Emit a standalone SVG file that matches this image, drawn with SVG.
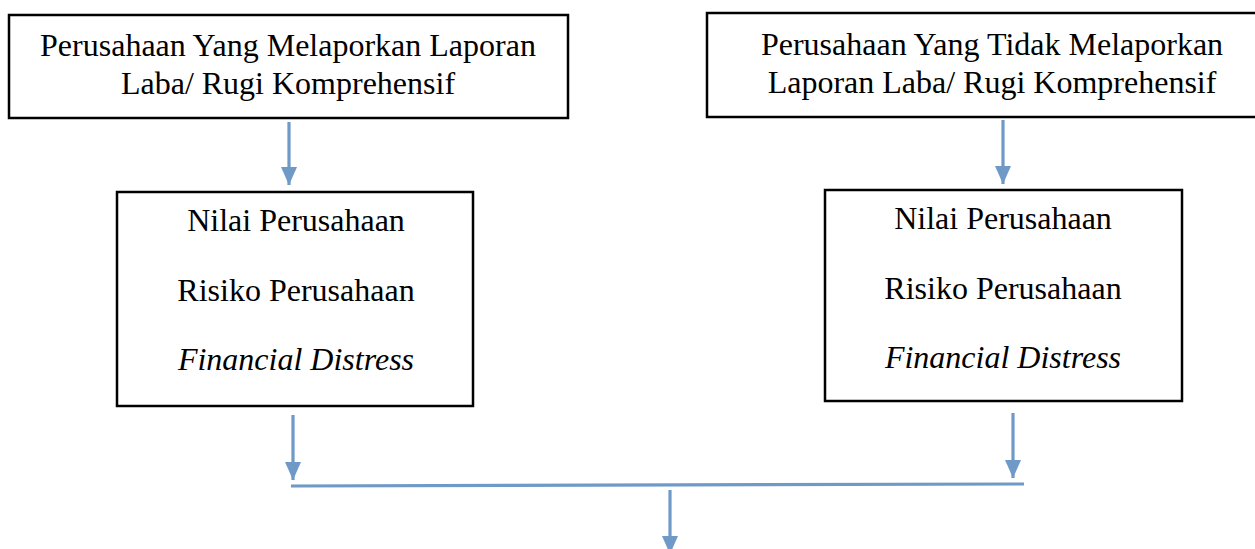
<svg xmlns="http://www.w3.org/2000/svg" width="1255" height="549" viewBox="0 0 1255 549">
<style>
.box{fill:#fff;stroke:#000;stroke-width:2.5}
.t{font-family:"Liberation Serif","Times New Roman",serif;font-size:32px;fill:#000;text-anchor:middle}
.i{font-style:italic}
.c{stroke:#6f99c6;stroke-width:3.2;fill:none}
.h{fill:#6f99c6}
</style>
<defs>
<marker id="ah" markerUnits="userSpaceOnUse" markerWidth="18" markerHeight="16" refX="18" refY="8" orient="auto" viewBox="0 0 18 16">
<path d="M0,0 L18,8 L0,16 Z" class="h"/>
</marker>
</defs>
<rect width="1255" height="549" fill="#fff"/>
<g id="n1">
<rect class="box" x="9" y="15" width="559" height="103"/>
<text class="t" x="288" y="56">Perusahaan Yang Melaporkan Laporan</text>
<text class="t" x="288" y="94">Laba/ Rugi Komprehensif</text>
</g>
<g id="n2">
<rect class="box" x="707" y="13" width="570" height="104"/>
<text class="t" x="992" y="55">Perusahaan Yang Tidak Melaporkan</text>
<text class="t" x="992" y="93">Laporan Laba/ Rugi Komprehensif</text>
</g>
<g id="n3">
<rect class="box" x="117" y="192" width="356" height="214"/>
<text class="t" x="296" y="231">Nilai Perusahaan</text>
<text class="t" x="296" y="301">Risiko Perusahaan</text>
<text class="t i" x="296" y="370">Financial Distress</text>
</g>
<g id="n4">
<rect class="box" x="825" y="190" width="357" height="211"/>
<text class="t" x="1003" y="229">Nilai Perusahaan</text>
<text class="t" x="1003" y="299">Risiko Perusahaan</text>
<text class="t i" x="1003" y="368">Financial Distress</text>
</g>
<g id="connectors">
<line class="c" x1="289" y1="122" x2="289" y2="185" marker-end="url(#ah)"/>
<line class="c" x1="1003" y1="120" x2="1003" y2="184" marker-end="url(#ah)"/>
<line class="c" x1="293" y1="415" x2="293" y2="480" marker-end="url(#ah)"/>
<line class="c" x1="1013" y1="413" x2="1013" y2="478" marker-end="url(#ah)"/>
<line class="c" x1="291" y1="486" x2="1024" y2="484"/>
<line class="c" x1="670" y1="490" x2="670" y2="554" marker-end="url(#ah)"/>
</g>
</svg>
